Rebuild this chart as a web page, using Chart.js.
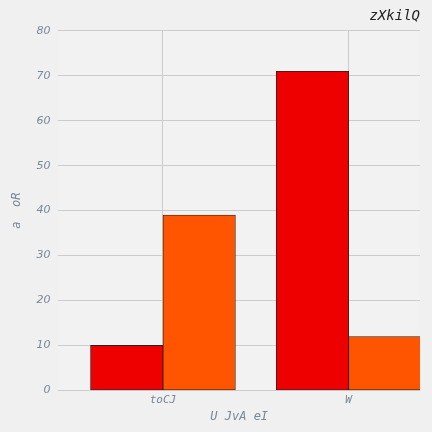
<!DOCTYPE html>
<html>
<head>
<script src="https://cdn.jsdelivr.net/npm/chart.js@4/dist/chart.umd.min.js"></script>
<style>
  html, body { margin: 0; padding: 0; background: #f0f0f0; }
  #wrap { width: 432px; height: 432px; }
</style>
</head>
<body>
<div id="wrap"><canvas id="c" width="432" height="432"></canvas></div>
<script>
const categories = ['toCJ', 'W'];
const redValues = [10, 71];
const orangeValues = [39, 12];
const yTicks = [0, 10, 20, 30, 40, 50, 60, 70, 80];

const half = 0.195;
const mono = 'DejaVu Sans Mono';

const bg = {
  id: 'bg',
  beforeDraw(chart) {
    const ctx = chart.ctx;
    ctx.save();
    ctx.fillStyle = '#f0f0f0';
    ctx.fillRect(0, 0, chart.width, chart.height);
    const a = chart.chartArea;
    ctx.fillStyle = '#f2f2f2';
    ctx.fillRect(a.left, a.top, a.right - a.left, a.bottom - a.top);
    ctx.restore();
  }
};

new Chart(document.getElementById('c'), {
  type: 'bar',
  data: {
    datasets: [
      {
        label: 'red',
        data: redValues.map((v, i) => ({ x: i - half, y: v })),
        backgroundColor: '#ee0000',
        borderColor: '#222222',
        borderWidth: 0.8,
        borderSkipped: false,
        grouped: false,
        barPercentage: 1,
        categoryPercentage: 1
      },
      {
        label: 'orange',
        data: orangeValues.map((v, i) => ({ x: i + half, y: v })),
        backgroundColor: '#ff5500',
        borderColor: '#222222',
        borderWidth: 0.8,
        borderSkipped: false,
        grouped: false,
        barPercentage: 1,
        categoryPercentage: 1
      }
    ]
  },
  options: {
    responsive: false,
    animation: false,
    layout: { padding: { top: 8, right: 12, left: 6, bottom: 4 } },
    plugins: {
      legend: { display: false },
      tooltip: { enabled: false },
      title: {
        display: true,
        text: 'zXkilQ',
        align: 'end',
        color: '#222222',
        font: { family: mono, size: 14, style: 'italic', weight: 'normal' },
        padding: { top: 0, bottom: 6 }
      }
    },
    scales: {
      x: {
        type: 'linear',
        offset: false,
        min: -0.563,
        max: 1.384,
        afterBuildTicks(axis) { axis.ticks = categories.map((c, i) => ({ value: i })); },
        ticks: {
          callback: (v) => categories[v] ?? '',
          color: '#778899',
          font: { family: mono, size: 11, style: 'italic' }
        },
        grid: { color: '#cccccc', drawTicks: false, offset: false },
        border: { display: false },
        title: {
          display: true,
          text: 'U JvA eI',
          color: '#778899',
          font: { family: mono, size: 12, style: 'italic' },
          padding: { top: 0 }
        }
      },
      y: {
        min: 0,
        max: 80,
        afterBuildTicks(axis) { axis.ticks = yTicks.map(v => ({ value: v })); },
        ticks: {
          color: '#778899',
          padding: 8,
          font: { family: 'DejaVu Sans', size: 11, style: 'italic' }
        },
        grid: { color: '#cccccc', drawTicks: false },
        border: { display: false },
        title: {
          display: true,
          text: 'a  oR',
          color: '#778899',
          font: { family: mono, size: 12, style: 'italic' }
        }
      }
    }
  },
  plugins: [bg]
});
</script>
</body>
</html>
